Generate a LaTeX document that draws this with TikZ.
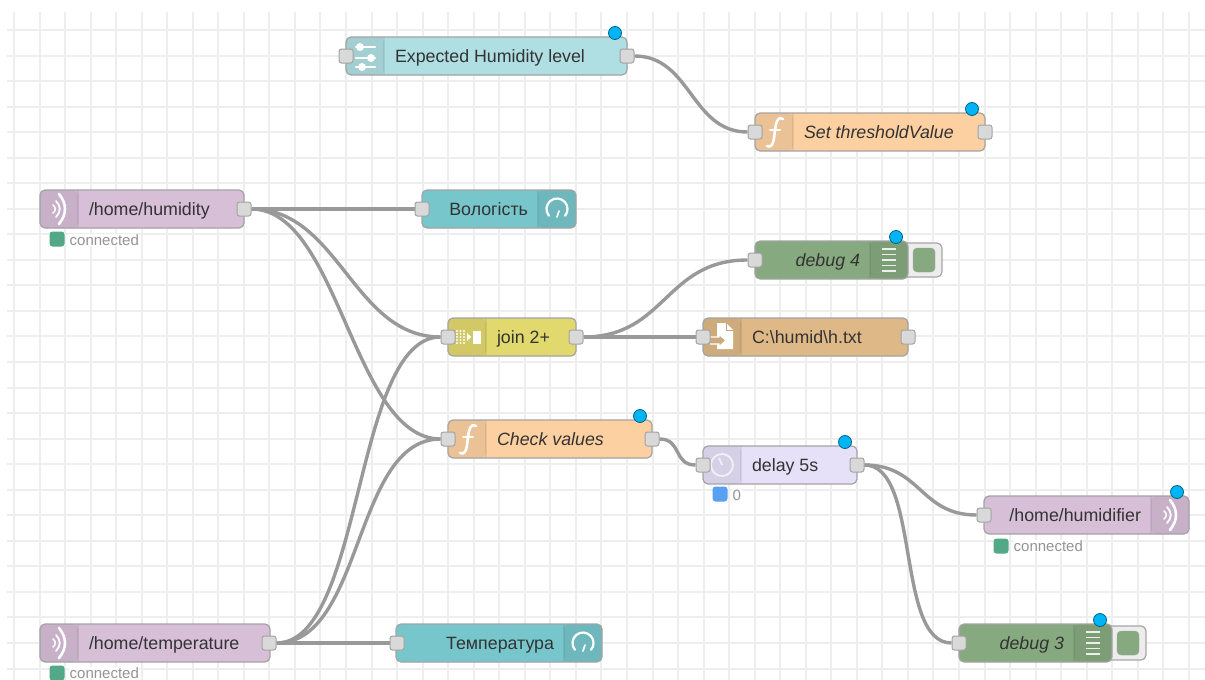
\documentclass[tikz,border=0pt]{standalone}
\usepackage{fontspec}
\setmainfont{Liberation Sans}
\usepackage{xcolor}
\usepackage{tikz}
\usetikzlibrary{positioning}

\definecolor{gridcol}{HTML}{EEEEEE}
\definecolor{wirecol}{HTML}{999999}
\definecolor{txtcol}{HTML}{333333}
\definecolor{mqttcol}{HTML}{D8BFD8}
\definecolor{gaugecol}{HTML}{77C6CC}
\definecolor{slidercol}{HTML}{B0DFE3}
\definecolor{funccol}{HTML}{FDD0A2}
\definecolor{debugcol}{HTML}{87A980}
\definecolor{joincol}{HTML}{E2D96E}
\definecolor{filecol}{HTML}{DEB887}
\definecolor{delaycol}{HTML}{E6E0F8}
\definecolor{dotcol}{HTML}{00B4F5}
\definecolor{okcol}{HTML}{53A888}
\definecolor{zerocol}{HTML}{5AA0F2}

\pgfdeclarelayer{background}
\pgfsetlayers{background,main}

\begin{document}
\begin{tikzpicture}[
  x=1pt, y=-1pt,
  flow/.style={draw=black!36, line width=1.2pt, rounded corners=5pt, minimum height=38pt, inner xsep=0pt,
    inner ysep=0pt, outer sep=0pt, anchor=north west, text=txtcol, text height=16pt, text depth=4pt,
    font=\fontsize{17.8}{20}\selectfont},
  flowit/.style={flow, font=\fontsize{17.8}{20}\selectfont\itshape},
  lefttab/.style={text width=#1pt, align=flush left, execute at begin node=\hspace*{49pt},
    path picture={
      \fill[black, opacity=0.07] (path picture bounding box.north west) rectangle ([xshift=38pt]path picture bounding box.south west);
      \draw[black, opacity=0.07] ([xshift=38pt]path picture bounding box.north west) -- ([xshift=38pt]path picture bounding box.south west);
    }},
  righttab/.style={text width=#1pt, align=flush right, execute at end node=\hspace*{48pt},
    path picture={
      \fill[black, opacity=0.07] (path picture bounding box.north east) rectangle ([xshift=-38pt]path picture bounding box.south east);
      \draw[black, opacity=0.07] ([xshift=-38pt]path picture bounding box.north east) -- ([xshift=-38pt]path picture bounding box.south east);
    }},
  port/.style={draw=black!36, fill=black!15, line width=1pt, rounded corners=2.5pt, minimum size=14pt, inner sep=0pt},
  wire/.style={draw=wirecol, line width=3.4pt},
  changed/.style={draw=black!45!dotcol, fill=dotcol, line width=0.8pt, circle, minimum size=13pt, inner sep=0pt},
  stat/.style={fill=#1, rounded corners=3pt, minimum size=15pt, inner sep=0pt},
  stattxt/.style={fill=white, text=black!42, inner sep=0.5pt, font=\fontsize{15}{17}\selectfont},
  btnbox/.style={draw=black!35, fill=black!7, line width=1.2pt, rounded corners=5pt, minimum width=44pt, minimum height=34pt, inner sep=0pt},
  btnfill/.style={fill=debugcol, draw=black!35, rounded corners=4pt, minimum width=22pt, minimum height=24pt, inner sep=0pt},
  icon/.style={white, line width=2.2pt, line cap=round},
  wavesicon/.pic={
    \draw[icon, line width=2.6pt] (0,-15) .. controls (8,-5) and (8,5) .. (0,15);
    \draw[icon, line width=1.8pt] (-3,-8) .. controls (2,-3) and (2,3) .. (-3,8);
    \draw[icon, line width=1.5pt] (-6,-4) .. controls (-3,-2) and (-3,2) .. (-6,4);
  },
  funcicon/.pic={
    \draw[icon, line width=2.6pt] (9,-13) .. controls (3,-16) and (2,-9) .. (1,-2) .. controls (0,5) and (0,17) .. (-7,14);
    \draw[icon, line width=2pt] (-4,-2) -- (6,-2);
  },
  slidericon/.pic={
    \draw[icon, line width=2.4pt] (-9,-9) -- (10,-9) (-9,2) -- (10,2) (-9,11) -- (10,11);
    \fill[white] (-5,-9) circle (4pt) (6,2) circle (4pt) (-3,11) circle (4pt);
  },
  gaugeicon/.pic={
    \draw[icon] (0,0) ++(220:10.5pt) arc[start angle=220, end angle=-40, radius=10.5pt];
    \draw[icon, line width=1.6pt] (0,8) -- (2,2);
  },
  debugicon/.pic={
    \foreach \yy in {-11,-5.5,0,5.5,11} {\draw[white, opacity=0.85, line width=1.8pt] (-7,\yy) -- (7,\yy);}
  },
  clockicon/.pic={
    \draw[white, opacity=0.7, line width=1.8pt] (0,0) circle (11pt);
    \draw[white, opacity=0.7, line width=1.8pt] (0,0) -- (-3,-7);
  },
  fileicon/.pic={
    \fill[white] (-5,-14) -- (4,-14) -- (11,-7) -- (11,12) -- (-5,12) -- cycle;
    \draw[filecol!90!black, line width=1pt] (4,-14) -- (4,-7) -- (11,-7);
    \fill[filecol!92!black, draw=white, line width=1.4pt] (-12,0) -- (-3,0) -- (-3,-3) -- (4,3.5) -- (-3,10) -- (-3,7) -- (-12,7);
  },
  joinicon/.pic={
    \foreach \xx in {-10,-6.5,-3} {\foreach \yy in {-6,-3,0,3,6} {\fill[white] (\xx,\yy) circle (1.1pt);}}
    \fill[white] (0,-4) -- (4,0) -- (0,4) -- cycle;
    \fill[white] (6,-6.5) rectangle (14,6.5);
  }
]
\useasboundingbox (0,0) rectangle (1205,680);

% Workspace grid
\begin{pgfonlayer}{background}
\fill[white] (0,0) rectangle (1205,680);
\foreach \i in {0,...,46} {\draw[gridcol, line width=2pt] (14+25.54*\i,12) -- (14+25.54*\i,680);}
\foreach \i in {0,...,25} {\draw[gridcol, line width=2pt] (7,30+25.54*\i) -- (1205,30+25.54*\i);}
\end{pgfonlayer}

% Settings row
\node[flow, lefttab=281, fill=slidercol] (expected) at (346,37) {Expected Humidity level};
\node[flowit, lefttab=230, fill=funccol] (threshold) at (755,113) {Set thresholdValue};
\pic at ([xshift=19pt]expected.west) {slidericon};
\pic at ([xshift=19pt]threshold.west) {funcicon};
\node[port] (expectedin) at (expected.west) {};
\node[port] (expectedout) at (expected.east) {};
\node[port] (thresholdin) at (threshold.west) {};
\node[port] (thresholdout) at (threshold.east) {};
\node[changed] (expecteddot) at ([shift={(-12,-4)}]expected.north east) {};
\node[changed] (thresholddot) at ([shift={(-13,-4)}]threshold.north east) {};

% Humidity input
\node[flow, lefttab=204, fill=mqttcol] (humidity) at (40,190) {/home/humidity};
\node[flow, righttab=154, fill=gaugecol] (humgauge) at (422,190) {Вологість};
\pic at ([xshift=19pt]humidity.west) {wavesicon};
\pic at ([xshift=-19pt]humgauge.east) {gaugeicon};
\node[port] (humidityout) at (humidity.east) {};
\node[port] (humgaugein) at (humgauge.west) {};
\node[stat=okcol] (humstat) at (57,239) {};
\node[stattxt, anchor=west] (humtxt) at (69,240) {connected};

% Join and outputs
\node[btnbox] (debugfourbtn) at (920,260) {};
\node[btnfill] (debugfourfill) at (924,260) {};
\node[flowit, righttab=153, fill=debugcol] (debugfour) at (755,241) {debug 4};
\pic at ([xshift=-19pt]debugfour.east) {debugicon};
\node[port] (debugfourin) at (debugfour.west) {};
\node[changed] (debugfourdot) at ([shift={(-12,-4)}]debugfour.north east) {};

\node[flow, lefttab=128, fill=joincol] (join) at (448,318) {join 2+};
\node[flow, lefttab=205, fill=filecol] (file) at (703,318) {C:\textbackslash humid\textbackslash h.txt};
\pic at ([xshift=19pt]join.west) {joinicon};
\pic at ([xshift=19pt]file.west) {fileicon};
\node[port] (joinin) at (join.west) {};
\node[port] (joinout) at (join.east) {};
\node[port] (filein) at (file.west) {};
\node[port] (fileout) at (file.east) {};

% Checking branch
\node[flowit, lefttab=204, fill=funccol] (check) at (448,420) {Check values};
\node[flow, lefttab=154, fill=delaycol] (delay) at (703,446) {delay 5s};
\pic at ([xshift=19pt]check.west) {funcicon};
\pic at ([xshift=19pt]delay.west) {clockicon};
\node[port] (checkin) at (check.west) {};
\node[port] (checkout) at (check.east) {};
\node[port] (delayin) at (delay.west) {};
\node[port] (delayout) at (delay.east) {};
\node[changed] (checkdot) at ([shift={(-12,-4)}]check.north east) {};
\node[changed] (delaydot) at ([shift={(-12,-4)}]delay.north east) {};
\node[stat=zerocol] (delaystat) at (720,494) {};
\node[stattxt, anchor=west] (delaytxt) at (732,495) {0};

\node[flow, righttab=205, fill=mqttcol] (humidifier) at (984,496) {/home/humidifier};
\pic at ([xshift=-19pt]humidifier.east) {wavesicon};
\node[port] (humidifierin) at (humidifier.west) {};
\node[changed] (humidifierdot) at ([shift={(-12,-4)}]humidifier.north east) {};
\node[stat=okcol] (humidifierstat) at (1001,546) {};
\node[stattxt, anchor=west] (humidifiertxt) at (1013,546) {connected};

\node[btnbox] (debugthreebtn) at (1124,643) {};
\node[btnfill] (debugthreefill) at (1128,643) {};
\node[flowit, righttab=153, fill=debugcol] (debugthree) at (959,624) {debug 3};
\pic at ([xshift=-19pt]debugthree.east) {debugicon};
\node[port] (debugthreein) at (debugthree.west) {};
\node[changed] (debugthreedot) at ([shift={(-12,-4)}]debugthree.north east) {};

% Temperature input
\node[flow, lefttab=230, fill=mqttcol] (temperature) at (40,624) {/home/temperature};
\node[flow, righttab=206, fill=gaugecol] (tempgauge) at (396,624) {Температура};
\pic at ([xshift=19pt]temperature.west) {wavesicon};
\pic at ([xshift=-19pt]tempgauge.east) {gaugeicon};
\node[port] (temperatureout) at ([xshift=-1pt]temperature.east) {};
\node[port] (tempgaugein) at ([xshift=1pt]tempgauge.west) {};
\node[stat=okcol] (tempstat) at (57,673) {};
\node[stattxt, anchor=west] (temptxt) at (69,673) {connected};

% Wires
\begin{pgfonlayer}{background}
\draw[wire] (expectedout) .. controls +(64,0) and +(-64,0) .. (thresholdin);
\draw[wire] (humidityout) -- (humgaugein);
\draw[wire] (humidityout) .. controls +(95,0) and +(-95,0) .. (joinin);
\draw[wire] (humidityout) .. controls +(95,0) and +(-95,0) .. (checkin);
\draw[wire] (temperatureout) .. controls +(95,0) and +(-95,0) .. (joinin);
\draw[wire] (temperatureout) .. controls +(95,0) and +(-95,0) .. (checkin);
\draw[wire] (temperatureout) -- (tempgaugein);
\draw[wire] (joinout) .. controls +(90,0) and +(-90,0) .. (debugfourin);
\draw[wire] (joinout) -- (filein);
\draw[wire] (checkout) .. controls +(30,0) and +(-30,0) .. (delayin);
\draw[wire] (delayout) .. controls +(64,0) and +(-64,0) .. (humidifierin);
\draw[wire] (delayout) .. controls +(64,0) and +(-64,0) .. (debugthreein);
\end{pgfonlayer}

\end{tikzpicture}
\end{document}
